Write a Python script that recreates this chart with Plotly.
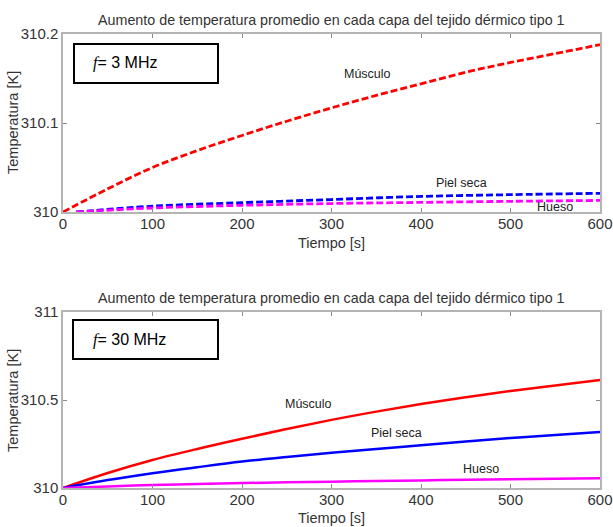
import plotly.graph_objects as go

# ---- data ----
t_musculo_3 = [0, 50, 100, 150, 200, 250, 300, 350, 400, 450, 500, 550, 600]
musculo_3 = [310.0, 310.026, 310.050, 310.069, 310.086, 310.102, 310.117,
             310.131, 310.144, 310.157, 310.168, 310.178, 310.188]
t_low_3 = [15, 100, 200, 300, 400, 500, 600]
piel_3 = [310.0, 310.0065, 310.0105, 310.014, 310.0175, 310.0195, 310.021]
hueso_3 = [310.0, 310.0045, 310.0075, 310.0095, 310.0108, 310.012, 310.013]

t_30 = [0, 50, 100, 150, 200, 250, 300, 350, 400, 450, 500, 550, 600]
musculo_30 = [310.0, 310.085, 310.159, 310.222, 310.280, 310.335, 310.387,
              310.434, 310.477, 310.516, 310.551, 310.583, 310.613]
piel_30 = [310.0, 310.045, 310.084, 310.118, 310.150, 310.176, 310.200,
           310.222, 310.243, 310.264, 310.284, 310.301, 310.318]
hueso_30 = [310.0, 310.009, 310.017, 310.023, 310.028, 310.032, 310.036,
            310.040, 310.043, 310.047, 310.050, 310.053, 310.056]

x_ticks = [0, 100, 200, 300, 400, 500, 600]
y_ticks_3 = [310.0, 310.1, 310.2]
y_tick_text_3 = ["310", "310.1", "310.2"]
y_ticks_30 = [310.0, 310.5, 311.0]
y_tick_text_30 = ["310", "310.5", "311"]

title_text = "Aumento de temperatura promedio en cada capa del tejido dérmico tipo 1"

# ---- figure ----
W, H = 613, 527
FONT = "Liberation Sans, Arial, sans-serif"
RED, BLUE, MAG = "#ff0000", "#0000ff", "#ff00ff"

fig = go.Figure()

def add(x, y, color, dash, xa, ya, width):
    fig.add_trace(go.Scatter(x=x, y=y, mode="lines", xaxis=xa, yaxis=ya,
                             line=dict(color=color, width=width, dash=dash, shape="spline"),
                             showlegend=False, hoverinfo="skip"))

DASH = "7px,3px"
add(t_musculo_3, musculo_3, RED, DASH, "x", "y", 2.8)
add(t_low_3, piel_3, BLUE, DASH, "x", "y", 2.8)
add(t_low_3, hueso_3, MAG, DASH, "x", "y", 2.8)
add(t_30, musculo_30, RED, "solid", "x2", "y2", 2.5)
add(t_30, piel_30, BLUE, "solid", "x2", "y2", 2.5)
add(t_30, hueso_30, MAG, "solid", "x2", "y2", 2.5)

def py(pix):
    return (H - pix) / H

def px(pix):
    return pix / W

xdom = [px(63), px(600)]
axis_common = dict(showline=True, linecolor="#b4b4b4", linewidth=1.5, mirror="ticks",
                   ticks="inside", ticklen=4, tickcolor="#8a8a8a", tickwidth=1,
                   showgrid=False, zeroline=False, automargin=False,
                   tickfont=dict(family=FONT, size=15, color="#333333"))
xaxis_extra = dict(ticklabelstandoff=-3)

fig.update_layout(
    width=W, height=H,
    margin=dict(l=0, r=0, t=0, b=0, autoexpand=False),
    paper_bgcolor="white", plot_bgcolor="white",
    xaxis=dict(domain=xdom, range=[0, 600], tickvals=x_ticks, anchor="y",
               **xaxis_extra, **axis_common),
    yaxis=dict(domain=[py(212), py(34)], range=[310.0, 310.2], tickvals=y_ticks_3,
               ticktext=y_tick_text_3, anchor="x", **axis_common),
    xaxis2=dict(domain=xdom, range=[0, 600], tickvals=x_ticks, anchor="y2",
                **xaxis_extra, **axis_common),
    yaxis2=dict(domain=[py(488), py(312)], range=[310.0, 311.0], tickvals=y_ticks_30,
                ticktext=y_tick_text_30, anchor="x2", **axis_common),
)

ann = []
tf = dict(family=FONT, size=14.3, color="#333333")
lf = dict(family=FONT, size=14.5, color="#333333")
# titles
ann.append(dict(text=title_text, x=px(331), y=py(20), xref="paper", yref="paper",
                showarrow=False, font=tf, xanchor="center", yanchor="middle"))
ann.append(dict(text=title_text, x=px(331), y=py(298), xref="paper", yref="paper",
                showarrow=False, font=tf, xanchor="center", yanchor="middle"))
# axis titles
for yc in (123, 401):
    ann.append(dict(text="Temperatura [K]", x=px(13), y=py(yc), xref="paper", yref="paper",
                    showarrow=False, font=lf, textangle=-90, xanchor="center", yanchor="middle"))
for yc in (243, 518):
    ann.append(dict(text="Tiempo [s]", x=px(331), y=py(yc), xref="paper", yref="paper",
                    showarrow=False, font=lf, xanchor="center", yanchor="middle"))

# curve labels
cf = dict(family=FONT, size=12.5, color="#222222")
ann += [
    dict(text="Músculo", x=340, y=310.155, xref="x", yref="y", showarrow=False, font=cf),
    dict(text="Piel seca", x=445, y=310.0325, xref="x", yref="y", showarrow=False, font=cf),
    dict(text="Hueso", x=550, y=310.0055, xref="x", yref="y", showarrow=False, font=cf),
    dict(text="Músculo", x=274, y=310.478, xref="x2", yref="y2", showarrow=False, font=cf),
    dict(text="Piel seca", x=373, y=310.312, xref="x2", yref="y2", showarrow=False, font=cf),
    dict(text="Hueso", x=467, y=310.107, xref="x2", yref="y2", showarrow=False, font=cf),
]

# frequency boxes
shapes = []
for (x0, y0, x1, y1, label) in [(74, 44, 218, 83, "3 MHz"), (73, 320, 218, 359, "30 MHz")]:
    shapes.append(dict(type="rect", xref="paper", yref="paper",
                       x0=px(x0), x1=px(x1), y0=py(y1), y1=py(y0),
                       line=dict(color="black", width=2), fillcolor="white", layer="above"))
    ann.append(dict(text="<i><span style='font-family:Liberation Serif'>f</span></i>= " + label,
                    x=px(91), y=py((y0 + y1) / 2), xref="paper", yref="paper",
                    showarrow=False, xanchor="left", yanchor="middle",
                    font=dict(family=FONT, size=16, color="black")))

fig.update_layout(annotations=ann, shapes=shapes)
fig.write_html(
    "out.html",
    config={"displayModeBar": False},
    post_script="document.body.style.margin='0';"
                "document.documentElement.style.overflow='hidden';",
)
